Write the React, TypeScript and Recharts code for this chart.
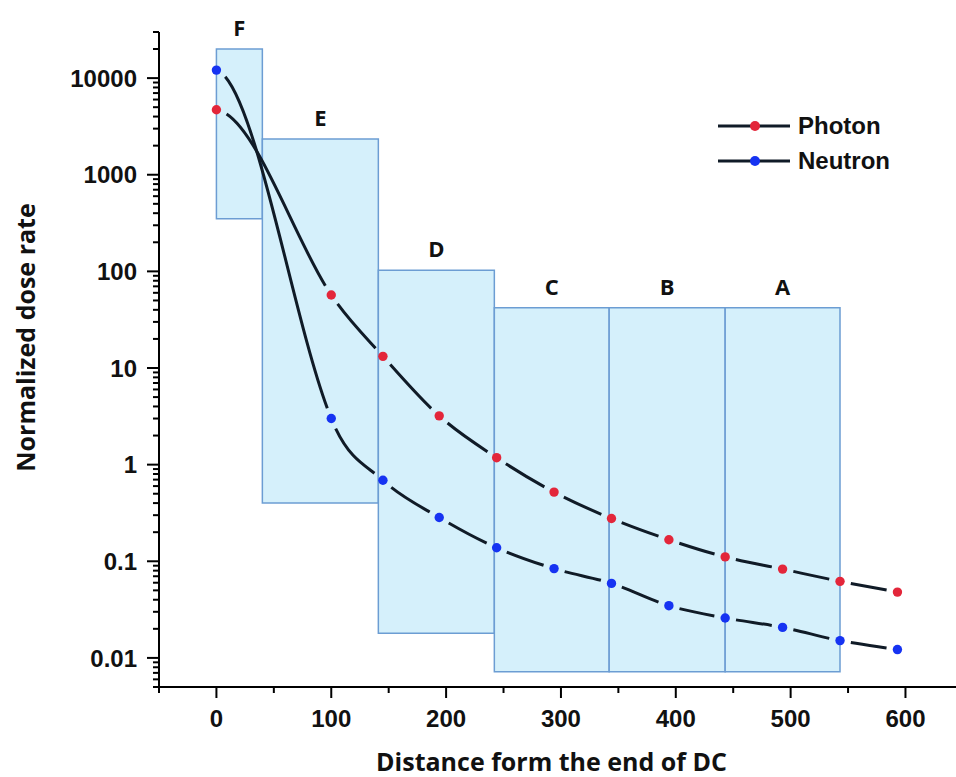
import React from 'react';
import { LineChart, Line, XAxis, YAxis, ReferenceArea, Legend } from 'recharts';

// ---- data ----
const distance = [0, 100, 145, 194, 244, 294, 344, 394, 443, 493, 543, 593];
const photon = [4700, 57, 13.2, 3.2, 1.18, 0.52, 0.277, 0.167, 0.111, 0.083, 0.062, 0.048];
const neutron = [12100, 3.0, 0.69, 0.284, 0.138, 0.084, 0.059, 0.0347, 0.0259, 0.0207, 0.0151, 0.0122];

const seriesNames = ['Photon', 'Neutron'];
const seriesKeys = ['photon', 'neutron'];
const seriesColors = ['#e3263a', '#1633f2'];

const zoneNames = ['F', 'E', 'D', 'C', 'B', 'A'];
const zoneStart = [0, 40, 141, 242, 342, 443];
const zoneEnd = [40, 141, 242, 342, 443, 543];
const zoneLow = [350, 0.4, 0.018, 0.0072, 0.0072, 0.0072];
const zoneHigh = [20000, 2340, 103, 42, 42, 42];

const xMajorTicks = [0, 100, 200, 300, 400, 500, 600];
const xMinorTicks = [-50, 50, 150, 250, 350, 450, 550];
const yMajorTicks = [0.01, 0.1, 1, 10, 100, 1000, 10000];
const yDecades = [0.001, 0.01, 0.1, 1, 10, 100, 1000, 10000];
const yMultipliers = [2, 3, 4, 5, 6, 7, 8, 9];

const X_DOMAIN = [-50, 644];
const Y_DOMAIN = [0.005, 30000];

const yMinorTicks: number[] = [];
yDecades.forEach((d) =>
  yMultipliers.forEach((k) => {
    const v = Number((k * d).toPrecision(3));
    if (v >= Y_DOMAIN[0] && v <= Y_DOMAIN[1]) yMinorTicks.push(v);
  })
);

const data = distance.map((x, i) => ({ x, photon: photon[i], neutron: neutron[i] }));

const W = 956;
const H = 777;
const TICK_FONT = '"Liberation Sans", Arial, sans-serif';
const TITLE_FONT = '"Open Sans", "Noto Sans", sans-serif';
const INK = '#111111';
const LINE_INK = '#101b27';
const GAP = 11; // gap left around each symbol, px

type Pt = [number, number];
const lerp = (a: Pt, b: Pt, t: number): Pt => [a[0] + (b[0] - a[0]) * t, a[1] + (b[1] - a[1]) * t];
const bez = (p: Pt[], t: number): Pt => {
  const a = lerp(p[0], p[1], t), b = lerp(p[1], p[2], t), c = lerp(p[2], p[3], t);
  const d = lerp(a, b, t), e = lerp(b, c, t);
  return lerp(d, e, t);
};
const splitBez = (p: Pt[], t: number): [Pt[], Pt[]] => {
  const a = lerp(p[0], p[1], t), b = lerp(p[1], p[2], t), c = lerp(p[2], p[3], t);
  const d = lerp(a, b, t), e = lerp(b, c, t);
  const f = lerp(d, e, t);
  return [[p[0], a, d, f], [f, e, c, p[3]]];
};
const dist = (a: Pt, b: Pt) => Math.hypot(a[0] - b[0], a[1] - b[1]);
const findT = (p: Pt[], anchor: Pt, r: number, fromStart: boolean) => {
  let lo = 0, hi = 1;
  for (let k = 0; k < 40; k++) {
    const mid = (lo + hi) / 2;
    const t = fromStart ? mid : 1 - mid;
    if (dist(bez(p, t), anchor) < r) lo = mid; else hi = mid;
  }
  const m = (lo + hi) / 2;
  return fromStart ? m : 1 - m;
};

// smooth Hermite curve through the points (pixel space), broken around each symbol
function gappedCurve(context: any) {
  let xs: number[] = [];
  let ys: number[] = [];
  return {
    areaStart() {},
    areaEnd() {},
    lineStart() {
      xs = [];
      ys = [];
    },
    point(x: number, y: number) {
      xs.push(+x);
      ys.push(+y);
    },
    lineEnd() {
      const n = xs.length;
      if (n < 2) return;
      const s: number[] = [];
      for (let i = 0; i < n - 1; i++) s.push((ys[i + 1] - ys[i]) / (xs[i + 1] - xs[i]));
      const m: number[] = new Array(n);
      m[0] = 0.1 * s[0];
      m[n - 1] = s[n - 2];
      for (let i = 1; i < n - 1; i++) m[i] = (ys[i + 1] - ys[i - 1]) / (xs[i + 1] - xs[i - 1]);
      for (let i = 0; i < n - 1; i++) {
        const h = xs[i + 1] - xs[i];
        const P: Pt[] = [
          [xs[i], ys[i]],
          [xs[i] + h / 3, ys[i] + (m[i] * h) / 3],
          [xs[i + 1] - h / 3, ys[i + 1] - (m[i + 1] * h) / 3],
          [xs[i + 1], ys[i + 1]],
        ];
        if (dist(P[0], P[3]) <= 2 * GAP + 1) continue;
        const ta = findT(P, P[0], GAP, true);
        const tb = findT(P, P[3], GAP, false);
        if (tb <= ta) continue;
        const left = splitBez(P, tb)[0];
        const sub = splitBez(left, ta / tb)[1];
        context.moveTo(sub[0][0], sub[0][1]);
        context.bezierCurveTo(sub[1][0], sub[1][1], sub[2][0], sub[2][1], sub[3][0], sub[3][1]);
      }
    },
  };
}

const makeDot = (prefix: string, color: string) => (props: any) => {
  const { cx, cy, index } = props;
  return <circle key={`${prefix}-${index}`} cx={cx} cy={cy} r={4.7} fill={color} />;
};

const XTick = (props: any) => {
  const { x, y, payload } = props;
  const major = xMajorTicks.includes(payload.value);
  return (
    <g>
      <line x1={x} x2={x} y1={y} y2={y + (major ? 11 : 6)} stroke="#000" strokeWidth={2} />
      {major && (
        <text x={x} y={y + 40} textAnchor="middle" fontFamily={TICK_FONT} fontWeight={700} fontSize={24} fill={INK}>
          {payload.value}
        </text>
      )}
    </g>
  );
};

const YTick = (props: any) => {
  const { x, y, payload } = props;
  const major = yMajorTicks.includes(payload.value);
  return (
    <g>
      <line x1={x - (major ? 12 : 6)} x2={x} y1={y} y2={y} stroke="#000" strokeWidth={2} />
      {major && (
        <text x={x - 22} y={y} dy="0.36em" textAnchor="end" fontFamily={TICK_FONT} fontWeight={700} fontSize={24} fill={INK}>
          {String(payload.value)}
        </text>
      )}
    </g>
  );
};

const XTitle = (props: any) => {
  const vb = props.viewBox || {};
  return (
    <text
      x={vb.x + vb.width / 2 - 6}
      y={vb.y + vb.height - 6}
      textAnchor="middle"
      fontFamily={TITLE_FONT}
      fontWeight={700}
      fontSize={25}
      fill={INK}
    >
      Distance form the end of DC
    </text>
  );
};

const YTitle = (props: any) => {
  const vb = props.viewBox || {};
  const cx = vb.x + 25;
  const cy = vb.y + vb.height / 2 - 22;
  return (
    <text
      x={cx}
      y={cy}
      transform={`rotate(-90 ${cx} ${cy})`}
      textAnchor="middle"
      dominantBaseline="central"
      fontFamily={TITLE_FONT}
      fontWeight={700}
      fontSize={25}
      fill={INK}
    >
      Normalized dose rate
    </text>
  );
};

const LegendContent = () => (
  <div style={{ fontFamily: TICK_FONT, fontWeight: 700, fontSize: 24, color: INK }}>
    {seriesNames.map((name, i) => (
      <div key={name} style={{ display: 'flex', alignItems: 'center', height: 35 }}>
        <svg width={72} height={12} style={{ display: 'block' }}>
          <line x1={0} x2={72} y1={6} y2={6} stroke={LINE_INK} strokeWidth={3} />
          <circle cx={37} cy={6} r={5} fill={seriesColors[i]} />
        </svg>
        <span style={{ marginLeft: 8, lineHeight: '35px' }}>{name}</span>
      </div>
    ))}
  </div>
);

export default function App() {
  return (
    <div style={{ position: 'absolute', left: 0, top: 0, width: W, height: H, background: '#fff' }}>
      <LineChart width={W} height={H} data={data} margin={{ top: 32, right: 0, bottom: 0, left: 0 }}>
        <XAxis
          type="number"
          dataKey="x"
          domain={X_DOMAIN}
          allowDataOverflow
          ticks={[...xMinorTicks, ...xMajorTicks].sort((a, b) => a - b)}
          interval={0}
          tickLine={false}
          tickSize={0}
          tickMargin={0}
          tick={XTick}
          axisLine={{ stroke: '#000', strokeWidth: 2 }}
          height={90}
          label={XTitle}
        />
        <YAxis
          type="number"
          scale="log"
          domain={Y_DOMAIN}
          allowDataOverflow
          ticks={[...yMinorTicks, ...yMajorTicks].sort((a, b) => a - b)}
          interval={0}
          tickLine={false}
          tickSize={0}
          tickMargin={0}
          tick={YTick}
          axisLine={{ stroke: '#000', strokeWidth: 2 }}
          width={159}
          label={YTitle}
        />
        {zoneNames.map((name, i) => (
          <ReferenceArea
            key={name}
            x1={zoneStart[i]}
            x2={zoneEnd[i]}
            y1={zoneLow[i]}
            y2={zoneHigh[i]}
            fill="#d5f0fb"
            fillOpacity={1}
            stroke="#6c9dd3"
            strokeWidth={1.5}
            label={{
              value: name,
              position: 'top',
              offset: 13,
              fontFamily: TITLE_FONT,
              fontWeight: 700,
              fontSize: 22,
              fill: INK,
            }}
          />
        ))}
        <Line
          dataKey={seriesKeys[0]}
          name={seriesNames[0]}
          type={gappedCurve as any}
          stroke={LINE_INK}
          strokeWidth={3}
          dot={makeDot('gp', seriesColors[0])}
          activeDot={false}
          isAnimationActive={false}
        />
        <Line
          dataKey={seriesKeys[1]}
          name={seriesNames[1]}
          type={gappedCurve as any}
          stroke={LINE_INK}
          strokeWidth={3}
          dot={makeDot('gn', seriesColors[1])}
          activeDot={false}
          isAnimationActive={false}
        />
        <Legend
          layout="vertical"
          align="center"
          verticalAlign="middle"
          content={LegendContent}
          wrapperStyle={{ left: 718, top: 108, width: 'auto' }}
        />
      </LineChart>
    </div>
  );
}
